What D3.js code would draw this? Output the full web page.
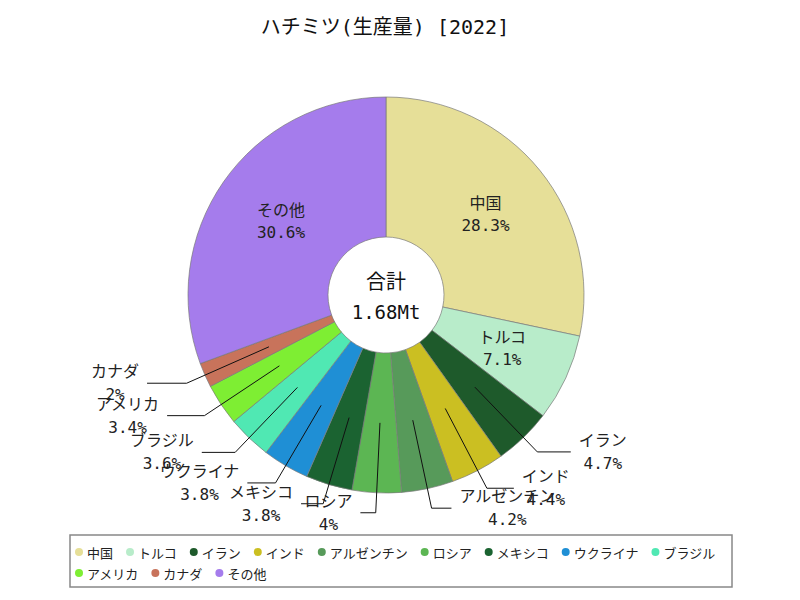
<!DOCTYPE html>
<html>
<head>
<meta charset="utf-8">
<script src="https://cdn.jsdelivr.net/npm/d3@7"></script>
<style>
  html, body { margin: 0; padding: 0; background: #fff; }
  svg { display: block; }
  .jp { font-family: 'DejaVu Sans Mono', 'Noto Sans CJK JP', sans-serif; }
  .lg { font-family: 'Noto Sans CJK JP', sans-serif; }
</style>
</head>
<body>
<svg id="chart" width="800" height="600"></svg>
<script>
const titleText = "ハチミツ(生産量) [2022]";
const categories = ["中国","トルコ","イラン","インド","アルゼンチン","ロシア","メキシコ","ウクライナ","ブラジル","アメリカ","カナダ","その他"];
const shares = [28.3, 7.1, 4.7, 4.4, 4.2, 4, 3.8, 3.8, 3.6, 3.4, 2, 30.6];
const colors = ["#e6df98","#b8ecca","#1e5a2b","#cbbf22","#579a5a","#5cb653","#1b6331","#1f8fd5","#50e8b3","#7eee33","#c8735b","#a57cec"];
const totalName = "合計";
const totalValue = "1.68Mt";

const svg = d3.select("#chart");
const W = 800, H = 600;
const cx = 386, cy = 295, R = 198, r0 = 58;

svg.append("rect").attr("width", W).attr("height", H).attr("fill", "#fff");

svg.append("text").attr("class", "jp")
  .attr("x", 385).attr("y", 27)
  .attr("text-anchor", "middle").attr("dominant-baseline", "central")
  .attr("font-size", 20).attr("fill", "#111")
  .text(titleText);

const data = categories.map((c, i) => ({ name: c, value: shares[i], color: colors[i] }));
const pie = d3.pie().sort(null).value(d => d.value);
const arcs = pie(data);
const arc = d3.arc().innerRadius(r0).outerRadius(R);

const g = svg.append("g").attr("transform", `translate(${cx},${cy})`);

g.selectAll("path.slice").data(arcs).enter().append("path")
  .attr("class", "slice")
  .attr("d", arc)
  .attr("fill", d => d.data.color)
  .attr("stroke", "#7a7a7a")
  .attr("stroke-width", 0.7);

// inside labels
const inside = arcs.filter(d => d.data.value >= 5);
const insideG = g.selectAll("g.in").data(inside).enter().append("g")
  .attr("transform", d => `translate(${arc.centroid(d)})`);
insideG.append("text").attr("class", "jp")
  .attr("text-anchor", "middle").attr("dominant-baseline", "central")
  .attr("y", -11).attr("font-size", 16).attr("fill", "#222")
  .text(d => d.data.name);
insideG.append("text").attr("class", "jp")
  .attr("text-anchor", "middle").attr("dominant-baseline", "central")
  .attr("y", 11).attr("font-size", 16).attr("fill", "#222")
  .text(d => d.data.value + "%");

// outside labels with leader lines
const outside = arcs.filter(d => d.data.value < 5);
const lineG = g.append("g");
const labG = g.append("g");
outside.forEach(d => {
  const a = (d.startAngle + d.endAngle) / 2;
  const s = Math.sin(a), c = Math.cos(a);
  const p0 = arc.centroid(d);
  const p1 = [(R + 20) * s, -(R + 20) * c];
  const dir = s >= 0 ? 1 : -1;
  const p2 = [p1[0] + dir * (14 + 28 * Math.abs(s)), p1[1]];
  lineG.append("polyline")
    .attr("points", [p0, p1, p2].map(p => p.join(",")).join(" "))
    .attr("fill", "none").attr("stroke", "#111").attr("stroke-width", 1);
  const t1 = labG.append("text").attr("class", "jp")
    .attr("text-anchor", "middle").attr("dominant-baseline", "central")
    .attr("font-size", 16).attr("fill", "#222").text(d.data.name);
  const t2 = labG.append("text").attr("class", "jp")
    .attr("text-anchor", "middle").attr("dominant-baseline", "central")
    .attr("font-size", 16).attr("fill", "#222").text(d.data.value + "%");
  const w = Math.max(t1.node().getComputedTextLength(), t2.node().getComputedTextLength());
  const x = p2[0] + dir * (8 + w / 2);
  t1.attr("x", x).attr("y", p2[1] - 11.5);
  t2.attr("x", x).attr("y", p2[1] + 11.5);
});

// center
g.append("text").attr("class", "jp")
  .attr("text-anchor", "middle").attr("dominant-baseline", "central")
  .attr("y", -13).attr("font-size", 20).attr("fill", "#111").text(totalName);
g.append("text").attr("class", "jp")
  .attr("text-anchor", "middle").attr("dominant-baseline", "central")
  .attr("y", 17).attr("font-size", 19).attr("fill", "#111").text(totalValue);

// legend
const lx = 70, ly = 535, lw = 662, lh = 52;
svg.append("rect").attr("x", lx).attr("y", ly).attr("width", lw).attr("height", lh)
  .attr("fill", "#fff").attr("stroke", "#888").attr("stroke-width", 1.5);
const legG = svg.append("g");
let x = lx + 9, row = 0;
const rowY = [552, 573];
data.forEach(d => {
  const t = legG.append("text").attr("class", "lg")
    .attr("font-size", 13).attr("fill", "#222")
    .attr("dominant-baseline", "central").text(d.name);
  const tw = t.node().getComputedTextLength();
  if (x + 9 + tw > lx + lw - 6) { row += 1; x = lx + 9; }
  legG.append("circle").attr("cx", x).attr("cy", rowY[row]).attr("r", 4).attr("fill", d.color);
  t.attr("x", x + 8).attr("y", rowY[row]);
  x = x + 8 + tw + 17;
});
</script>
</body>
</html>
